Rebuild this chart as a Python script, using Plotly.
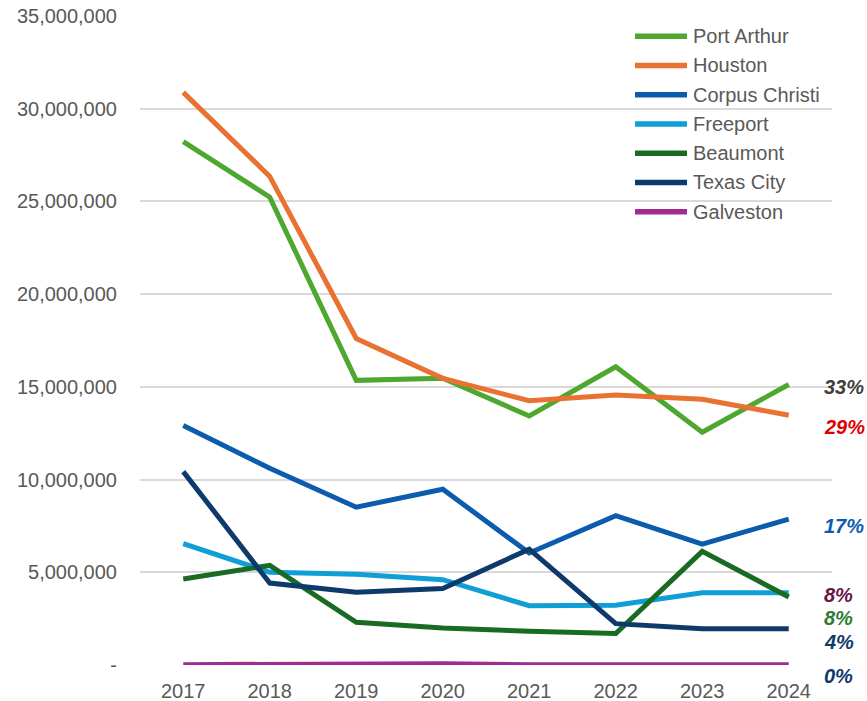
import plotly.graph_objects as go

years = ["2017", "2018", "2019", "2020", "2021", "2022", "2023", "2024"]

port_arthur = [28230000, 25230000, 15350000, 15460000, 13430000, 16080000, 12550000, 15130000]
houston = [30880000, 26350000, 17610000, 15460000, 14250000, 14560000, 14330000, 13470000]
corpus_christi = [12910000, 10610000, 8510000, 9480000, 6040000, 8050000, 6520000, 7870000]
freeport = [6540000, 5000000, 4890000, 4600000, 3200000, 3220000, 3890000, 3890000]
beaumont = [4640000, 5370000, 2300000, 2000000, 1820000, 1700000, 6130000, 3670000]
texas_city = [10430000, 4420000, 3920000, 4120000, 6250000, 2230000, 1960000, 1960000]
galveston = [20000, 30000, 80000, 70000, 20000, 20000, 20000, 20000]

series_names = ["Port Arthur", "Houston", "Corpus Christi", "Freeport", "Beaumont", "Texas City", "Galveston"]
series_values = [port_arthur, houston, corpus_christi, freeport, beaumont, texas_city, galveston]
series_colors = ["#4EA72E", "#E97132", "#0B5CAD", "#0F9ED5", "#196B24", "#0E3A6B", "#A02B93"]

share_labels = ["33%", "29%", "17%", "8%", "8%", "4%", "0%"]
share_colors = ["#404040", "#E00000", "#0B5CAD", "#6B1447", "#2E7D32", "#0E3A6B", "#0E3A6B"]
share_label_y = [15000000, 12850000, 7500000, 3800000, 2550000, 1260000, -620000]

y_max = 35000000
y_tickvals = [0, 5000000, 10000000, 15000000, 20000000, 25000000, 30000000, 35000000]
y_ticktext = ["-", "5,000,000", "10,000,000", "15,000,000", "20,000,000", "25,000,000", "30,000,000", "35,000,000"]

FONT = "Liberation Sans, Arial, sans-serif"
FS = 20
fig = go.Figure()
for name, vals, col in zip(series_names, series_values, series_colors):
    fig.add_trace(go.Scatter(x=years, y=vals, mode="lines", name=name,
                             line=dict(color=col, width=5), showlegend=False))

# manual legend
W, H = 867, 701
L, R, T, B = 140, 35, 15.5, 35.5
pw, ph = W - L - R, H - T - B
def px_x(x):
    return (x - L) / pw
def px_y(y):
    return (H - B - y) / ph

for i, (name, col) in enumerate(zip(series_names, series_colors)):
    yc = 35.7 + 29.3 * i
    fig.add_shape(type="line", xref="paper", yref="paper",
                  x0=px_x(635), x1=px_x(687), y0=px_y(yc), y1=px_y(yc),
                  line=dict(color=col, width=5.5))
    fig.add_annotation(xref="paper", yref="paper", x=px_x(691), y=px_y(yc),
                       text=name, showarrow=False, xanchor="left", yanchor="middle",
                       font=dict(family=FONT, size=FS, color="#595959"))

for txt, col, yv in zip(share_labels, share_colors, share_label_y):
    fig.add_annotation(xref="paper", yref="paper", x=px_x(822), y=yv / y_max,
                       text="<b><i>" + txt + "</i></b>", showarrow=False,
                       xanchor="left", yanchor="middle",
                       font=dict(family=FONT, size=FS, color=col))

fig.update_layout(
    width=W, height=H,
    margin=dict(l=L, r=R, t=T, b=B, pad=0, autoexpand=False),
    paper_bgcolor="white", plot_bgcolor="white",
    font=dict(family=FONT, size=FS, color="#595959"),
)
fig.update_xaxes(type="category", range=[-0.5, 7.5], showgrid=False, showline=False,
                 ticks="", ticklabelstandoff=12, automargin=False,
                 tickfont=dict(size=FS, color="#595959"))
fig.update_yaxes(range=[0, y_max], tickvals=y_tickvals, ticktext=y_ticktext,
                 showgrid=True, gridcolor="#D9D9D9", gridwidth=1.5, zeroline=False,
                 showline=False, ticks="", ticklabelstandoff=22, automargin=False,
                 tickfont=dict(size=FS, color="#595959"))

fig.write_html("out.html", config={"displayModeBar": False},
               post_script="document.body.style.margin='0px';")
